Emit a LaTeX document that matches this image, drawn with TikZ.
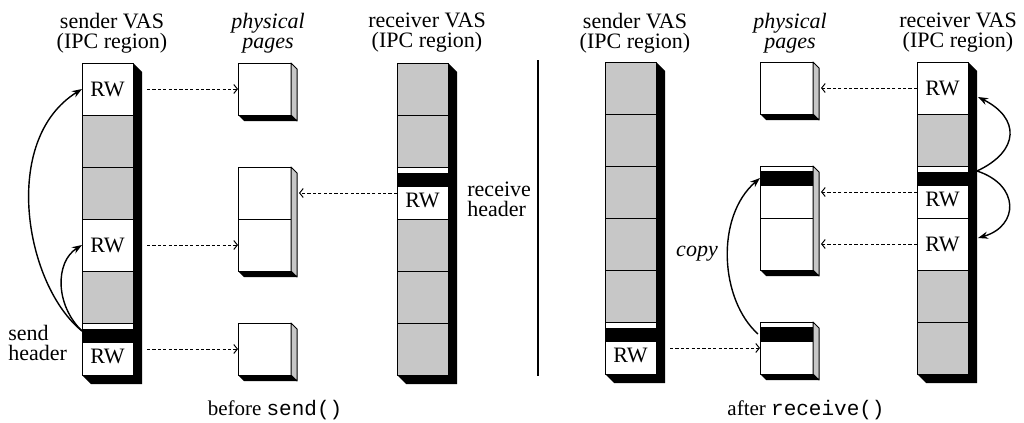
\documentclass[tikz,border=0pt]{standalone}
\usepackage{fontspec}
\setmainfont{Liberation Serif}
\setmonofont{Liberation Mono}
\usetikzlibrary{positioning,calc,arrows.meta}

\begin{document}
\begin{tikzpicture}[x=0.5pt,y=-0.5pt,>={Stealth[length=5pt,width=3.6pt]},font=\fontsize{11}{10}\selectfont,line join=round,node distance=0pt,
	vcell/.style={draw,line width=0.5pt,fill=white,minimum width=25.5pt,minimum height=26pt,inner sep=0pt,outer sep=0pt},
	gcell/.style={vcell,fill=black!22},
	ppage/.style={vcell,minimum width=26.5pt},
	vtitle/.style={align=center,anchor=north,inner sep=0pt},
	itext/.style={font=\fontsize{11}{10}\selectfont\itshape},
	pmap/.style={line width=0.5pt,dash pattern=on 1.6pt off 1.1pt,-{Straight Barb[length=1.8pt,width=4.5pt]}},
	flow/.style={line width=0.7pt,->}]
	\useasboundingbox (0,0) rectangle (1024,423);
	\foreach \t/\l [count=\i] in {vcell/RW,gcell/{},gcell/{},vcell/RW,gcell/{},vcell/{}}
		\node[\t] (sl\i) at (107.5,37+52*\i) {\l};
	\foreach \t [count=\i] in {gcell,gcell,vcell,gcell,gcell,gcell}
		\node[\t] (rl\i) at (422.5,37+52*\i) {};
	\foreach \t [count=\i] in {gcell,gcell,gcell,gcell,gcell,vcell}
		\node[\t] (sr\i) at (630.5,36+52*\i) {};
	\foreach \t/\l [count=\i] in {vcell/RW,gcell/{},vcell/{},vcell/RW,gcell/{},gcell/{}}
		\node[\t] (rr\i) at (942.5,36+52*\i) {\l};
	\foreach \a/\b in {sl1/sl6,rl1/rl6,sr1/sr6,rr1/rr6}
		\fill (\a.north east) -- ++(9,9) -- ($(\b.south east)+(9,9)$) -- ($(\b.south west)+(9,9)$) -- (\b.south west) -- (\b.south east) -- cycle;
	\foreach \h in {sl6,rl3,sr6,rr3}{
		\fill ($(\h.north west)+(0,6)$) rectangle ($(\h.north east)+(0,20)$);
		\node (\h rw) at ($(\h.south)+(0,-19)$) {RW};
	}
	\node[ppage] (pl1) at (264.5,89) {};
	\node[ppage] (pl2) at (264.5,193) {};
	\node[ppage,below=of pl2] (pl3) {};
	\node[ppage] (pl4) at (264.5,349) {};
	\node[ppage] (pr1) at (786.5,88) {};
	\node[ppage] (pr2) at (786.5,192) {};
	\node[ppage,below=of pr2] (pr3) {};
	\node[ppage] (pr4) at (786.5,348) {};
	\fill ($(pr2.north west)+(0,5)$) rectangle ($(pr2.north east)+(0,20)$);
	\fill ($(pr4.north west)+(0,5)$) rectangle ($(pr4.north east)+(0,20)$);
	\foreach \a/\b in {pl1/pl1,pl2/pl3,pl4/pl4,pr1/pr1,pr2/pr3,pr4/pr4}{
		\filldraw[fill=black!22,line width=0.5pt] (\a.north east) -- ++(6,6) -- ($(\b.south east)+(6,6)$) -- (\b.south east) -- cycle;
		\fill (\b.south west) -- (\b.south east) -- ++(6,6) -- ($(\b.south west)+(6,6)$) -- cycle;
	}
	\draw[line width=1pt] (538,60) -- (538,376);
	\node[vtitle] (slt) at (112,13) {sender VAS\\(IPC region)};
	\node[vtitle,itext] (plt) at (268,13) {physical\\pages};
	\node[vtitle] (rlt) at (427,13) {receiver VAS\\(IPC region)};
	\node[vtitle] (srt) at (635,13) {sender VAS\\(IPC region)};
	\node[vtitle,itext] (prt) at (790,13) {physical\\pages};
	\node[vtitle] (rrt) at (958,13) {receiver VAS\\(IPC region)};
	\node[align=left,anchor=west,inner sep=0pt] (sht) at (8,343) {send\\header};
	\node[align=left,anchor=west,inner sep=0pt] (rht) at (467,199) {receive\\header};
	\node[itext] (cpt) at (697,254) {copy};
	\node[anchor=base,font=\fontsize{10.5}{12}\selectfont] (bst) at (275,415) {before \texttt{send()}};
	\node[anchor=base,font=\fontsize{10.5}{12}\selectfont] (art) at (806,415) {after \texttt{receive()}};
	\draw[pmap,shorten <=7pt] (sl1) -- (pl1);
	\draw[pmap,shorten <=7pt] (sl4) -- (pl3);
	\draw[pmap,shorten <=7pt] (sl6) -- (pl4);
	\draw[pmap,shorten >=4pt] (rl3) -- (pl2);
	\draw[pmap,shorten <=7pt] (sr6) -- (pr4);
	\draw[pmap,shorten >=4pt] (rr1) -- (pr1);
	\draw[pmap,shorten >=4pt] (rr3) -- (pr2);
	\draw[pmap,shorten >=4pt] (rr4) -- (pr3);
	\coordinate (slhd) at ($(sl6.north west)+(0,8)$);
	\draw[flow] (slhd) .. controls +(-57,-46) and +(-82,51) .. (sl1.west);
	\draw[flow] (slhd) .. controls +(-27,-26) and +(-27,17) .. (sl4.west);
	\coordinate (rrhd) at ($(rr3.north east)+(9,5)$);
	\draw[flow] (rrhd) .. controls +(43,-20) and +(42,21) .. ($(rr1.east)+(10,9)$);
	\draw[flow] (rrhd) .. controls +(43,14) and +(41,-12) .. ($(rr4.east)+(10,-6)$);
	\coordinate (prhd) at ($(pr4.north west)+(-2,12)$);
	\draw[flow] (prhd) .. controls +(-38,-34) and +(-45,39) .. ($(pr2.north west)+(0,12)$);
\end{tikzpicture}
\end{document}
